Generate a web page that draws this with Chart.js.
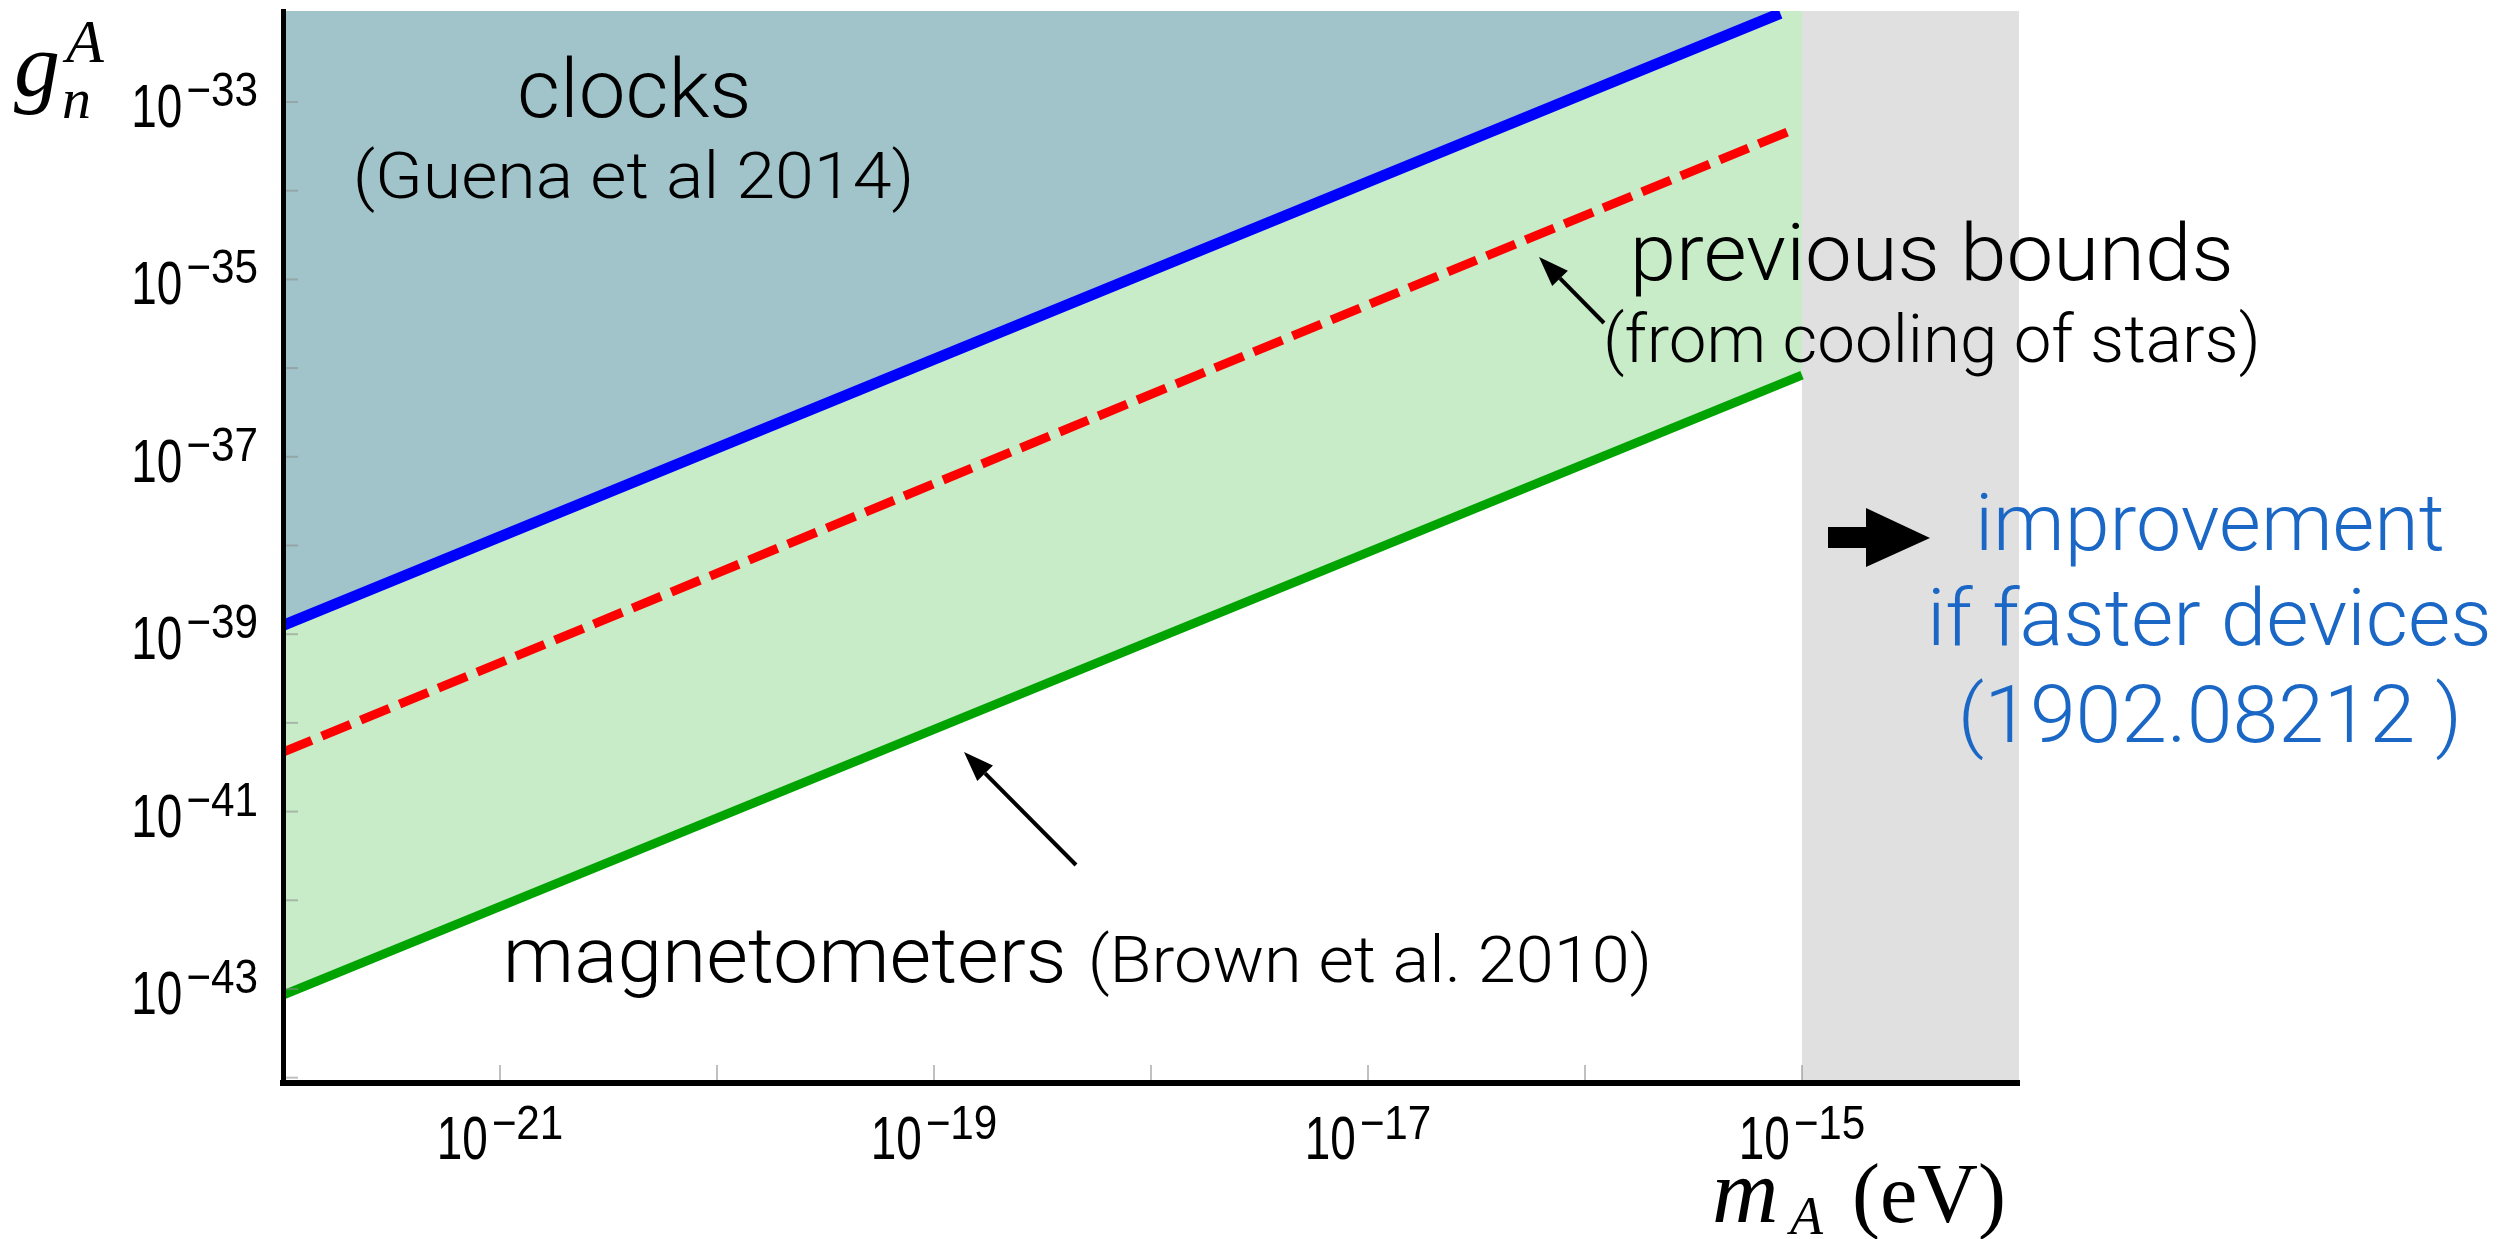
<!DOCTYPE html>
<html>
<head>
<meta charset="utf-8">
<script src="https://cdn.jsdelivr.net/npm/chart.js@4.4.1/dist/chart.umd.min.js"></script>
<style>
  html, body { margin: 0; padding: 0; background: #fff; }
  canvas { display: block; }
</style>
</head>
<body>
<canvas id="chart" width="2517" height="1239"></canvas>
<script>
// everything in log10: mass m_A in eV, coupling g_n^A
const clocksMass = [-22, -15.1];
const clocksCoupling = [-38.9, -32.0];
const starsMass = [-22, -15.03];
const starsCoupling = [-40.33, -33.3];
const magnetoMass = [-22, -15];
const magnetoCoupling = [-43.07, -36.08];
const fasterMass = [-15, -14];

const xRange = [-22, -14];
const yRange = [-44.06, -31.974];
const xTickExps = [-21, -20, -19, -18, -17, -16, -15];
const xLabelExps = [-21, -19, -17, -15];
const yTickExps = [-33, -34, -35, -36, -37, -38, -39, -40, -41, -42, -43, -44];
const yLabelExps = [-33, -35, -37, -39, -41, -43];

const fasterCoupling = [yRange[1], yRange[1]];

const BLUE_TEXT = "#1a67c6";
const SANS = '"Liberation Sans", Arial, sans-serif';
const LIGHT = '300 {s}px Roboto, "Liberation Sans", sans-serif';
const SERIF = '"Liberation Serif", "Times New Roman", serif';

function toPoints(xs, ys) {
  return xs.map((e, i) => ({ x: Math.pow(10, e), y: Math.pow(10, ys[i]) }));
}

// text placed by ink box: left x, baseline y, ink width w
const notes = [
  { text: "clocks", x: 520, y: 117, w: 228, size: 82 },
  { text: "(Guena et al 2014)", x: 357, y: 198, w: 553, size: 64 },
  { text: "previous bounds", x: 1636, y: 280, w: 594, size: 80 },
  { text: "(from cooling of stars)", x: 1607, y: 362, w: 649, size: 66 },
  { text: "magnetometers", x: 508, y: 982, w: 555, size: 78 },
  { text: "(Brown et al. 2010)", x: 1092, y: 982, w: 556, size: 64 },
  { text: "improvement", x: 1980, y: 550, w: 462, size: 80, color: BLUE_TEXT },
  { text: "if faster devices", x: 1932, y: 645, w: 556, size: 80, color: BLUE_TEXT },
  { text: "(1902.08212 )", x: 1963, y: 742, w: 494, size: 80, color: BLUE_TEXT }
];

function fitText(ctx, n) {
  ctx.font = LIGHT.replace("{s}", n.size);
  const m = ctx.measureText(n.text);
  const ink = m.actualBoundingBoxLeft + m.actualBoundingBoxRight;
  const sx = n.w / ink;
  ctx.save();
  ctx.fillStyle = n.color || "#000";
  ctx.textBaseline = "alphabetic";
  ctx.textAlign = "left";
  ctx.translate(n.x, n.y);
  ctx.scale(sx, 1);
  ctx.fillText(n.text, m.actualBoundingBoxLeft, 0);
  ctx.restore();
}

function arrow(ctx, x1, y1, x2, y2) {
  const a = Math.atan2(y2 - y1, x2 - x1);
  const len = 30, half = 11;
  const bx = x2 - len * Math.cos(a), by = y2 - len * Math.sin(a);
  ctx.save();
  ctx.strokeStyle = "#000";
  ctx.fillStyle = "#000";
  ctx.lineWidth = 4;
  ctx.beginPath();
  ctx.moveTo(x1, y1);
  ctx.lineTo(bx, by);
  ctx.stroke();
  ctx.beginPath();
  ctx.moveTo(x2, y2);
  ctx.lineTo(bx + half * Math.sin(a), by - half * Math.cos(a));
  ctx.lineTo(bx - half * Math.sin(a), by + half * Math.cos(a));
  ctx.closePath();
  ctx.fill();
  ctx.restore();
}

function italic(ctx, text, size, x, y) {
  ctx.font = "italic " + size + "px " + SERIF;
  ctx.fillText(text, x, y);
}

// "10" with a superscript exponent, anchored by align
function powerLabel(ctx, exp, x, baseY, supY, align) {
  const mainScale = 0.74, supScale = 0.88;
  const sup = "\u2212" + Math.abs(exp);
  ctx.font = "62px " + SANS;
  const w10 = ctx.measureText("10").width * mainScale;
  ctx.font = "48px " + SANS;
  const wSup = ctx.measureText(sup).width * supScale;
  const total = w10 + 4 + wSup;
  let left = x;
  if (align === "right") left = x - total;
  if (align === "center") left = x - total / 2;
  ctx.save();
  ctx.fillStyle = "#000";
  ctx.textAlign = "left";
  ctx.textBaseline = "alphabetic";
  ctx.font = "62px " + SANS;
  ctx.save();
  ctx.translate(left, baseY);
  ctx.scale(mainScale, 1);
  ctx.fillText("10", 0, 0);
  ctx.restore();
  ctx.font = "48px " + SANS;
  ctx.translate(left + w10 + 4, supY);
  ctx.scale(supScale, 1);
  ctx.fillText(sup, 0, 0);
  ctx.restore();
}

const axesDecor = {
  id: "axesDecor",
  afterDraw(chart) {
    const { ctx, chartArea } = chart;
    const xs = chart.scales.x, ys = chart.scales.y;
    ctx.save();
    ctx.strokeStyle = "rgba(140,140,140,0.55)";
    ctx.lineWidth = 2;
    yTickExps.forEach((e) => {
      const py = ys.getPixelForValue(Math.pow(10, e));
      ctx.beginPath();
      ctx.moveTo(chartArea.left + 3, py);
      ctx.lineTo(chartArea.left + 15, py);
      ctx.stroke();
    });
    xTickExps.forEach((e) => {
      const px = xs.getPixelForValue(Math.pow(10, e));
      ctx.beginPath();
      ctx.moveTo(px, chartArea.bottom - 3);
      ctx.lineTo(px, chartArea.bottom - 18);
      ctx.stroke();
    });
    ctx.restore();

    yLabelExps.forEach((e) => {
      const py = ys.getPixelForValue(Math.pow(10, e));
      powerLabel(ctx, e, chartArea.left - 25, py + 25, py + 4, "right");
    });
    xLabelExps.forEach((e) => {
      const px = xs.getPixelForValue(Math.pow(10, e));
      powerLabel(ctx, e, px, chartArea.bottom + 76, chartArea.bottom + 56, "center");
    });

    // axis titles
    ctx.save();
    ctx.fillStyle = "#000";
    ctx.textAlign = "left";
    ctx.textBaseline = "alphabetic";
    italic(ctx, "g", 92, 14, 96);
    italic(ctx, "n", 58, 62, 118);
    italic(ctx, "A", 62, 66, 62);
    italic(ctx, "m", 92, 1712, 1222);
    italic(ctx, "A", 54, 1790, 1234);
    ctx.font = "84px " + SERIF;
    ctx.fillText("(eV)", 1852, 1222);
    ctx.restore();
  }
};

const notesPlugin = {
  id: "notes",
  afterDraw(chart) {
    const ctx = chart.ctx;
    notes.forEach((n) => fitText(ctx, n));
    arrow(ctx, 1604, 323, 1539, 257);
    arrow(ctx, 1076, 865, 964, 752);
    // block arrow pointing at the blue note
    ctx.save();
    ctx.fillStyle = "#000";
    ctx.beginPath();
    ctx.moveTo(1828, 527);
    ctx.lineTo(1866, 527);
    ctx.lineTo(1866, 508);
    ctx.lineTo(1930, 538);
    ctx.lineTo(1866, 567);
    ctx.lineTo(1866, 548);
    ctx.lineTo(1828, 548);
    ctx.closePath();
    ctx.fill();
    ctx.restore();
  }
};

new Chart(document.getElementById("chart"), {
  type: "scatter",
  data: {
    datasets: [
      {
        label: "clocks",
        data: toPoints(clocksMass, clocksCoupling),
        showLine: true,
        borderColor: "#0000ff",
        borderWidth: 11,
        pointRadius: 0,
        fill: "end",
        backgroundColor: "#a1c3ca"
      },
      {
        label: "stars",
        data: toPoints(starsMass, starsCoupling),
        showLine: true,
        borderColor: "#ff0000",
        borderWidth: 9,
        borderDash: [31, 11],
        pointRadius: 0,
        fill: false
      },
      {
        label: "magnetometers",
        data: toPoints(magnetoMass, magnetoCoupling),
        showLine: true,
        borderColor: "#00a300",
        borderWidth: 9,
        pointRadius: 0,
        fill: "end",
        backgroundColor: "#c8ebc8"
      },
      {
        label: "faster devices",
        data: toPoints(fasterMass, fasterCoupling),
        showLine: true,
        borderWidth: 0,
        pointRadius: 0,
        fill: "start",
        backgroundColor: "#e0e0e0"
      }
    ]
  },
  options: {
    responsive: false,
    animation: false,
    devicePixelRatio: 1,
    layout: { padding: { left: 283, top: 11, right: 498, bottom: 156 } },
    plugins: { legend: { display: false }, tooltip: { enabled: false } },
    scales: {
      x: {
        type: "logarithmic",
        min: Math.pow(10, xRange[0]),
        max: Math.pow(10, xRange[1]),
        ticks: { display: false },
        grid: { display: false },
        border: { display: true, color: "#000", width: 6, z: 2 },
        afterFit(scale) { scale.height = 0; }
      },
      y: {
        type: "logarithmic",
        min: Math.pow(10, yRange[0]),
        max: Math.pow(10, yRange[1]),
        ticks: { display: false },
        grid: { display: false },
        border: { display: true, color: "#000", width: 5, z: 2 },
        afterFit(scale) { scale.width = 0; }
      }
    }
  },
  plugins: [axesDecor, notesPlugin]
});
</script>
</body>
</html>
